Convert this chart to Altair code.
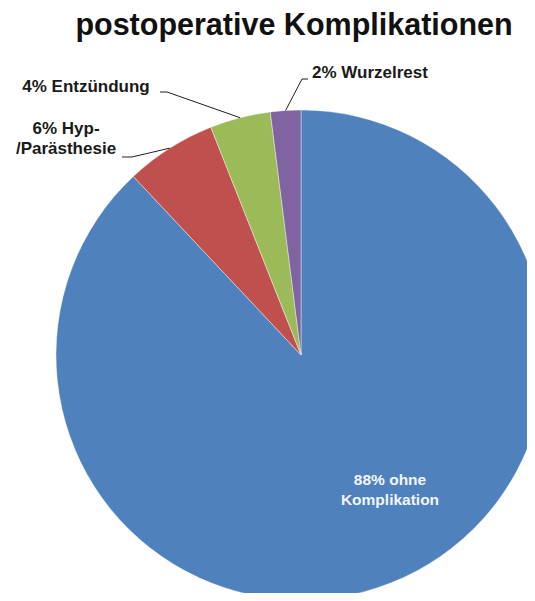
import math
import altair as alt
import pandas as pd

# ---- data -------------------------------------------------------------
categories = ["ohne Komplikation", "Hyp-/Parästhesie", "Entzündung", "Wurzelrest"]
percent = [88, 6, 4, 2]
label_lines = [["88% ohne", "Komplikation"], ["6% Hyp-", "/Parästhesie"],
               ["4% Entzündung"], ["2% Wurzelrest"]]
colors = ["#4F81BD", "#C0504D", "#9BBB59", "#8064A2"]
title_text = "postoperative Komplikationen"

# ---- layout (units of pie radius, relative to pie centre, y up) -------
W, H = 519, 585
R = 245.0
CX, CY = 293.0, 347.0          # pie centre inside the view
XDOM = [-CX / R, (W - CX) / R]
YDOM = [-(H - CY) / R, CY / R]

def u(px, py):
    """page pixel -> radius units"""
    return ((px - 301) / R, (355 - py) / R)

label_anchor = {           # (x, first baseline y), align
    "ohne Komplikation": (u(390, 485), "center"),
    "Hyp-/Parästhesie": (u(66, 134), "center"),
    "Entzündung": (u(86, 92), "center"),
    "Wurzelrest": (u(312, 78), "left"),
}
line_gap = 20 / R
label_stub = {
    "Hyp-/Parästhesie": [u(122, 157), u(132, 157)],
    "Entzündung": [u(160, 92), u(167, 92)],
    "Wurzelrest": [u(308, 79), u(302, 79)],
}
outer_labels = ["Hyp-/Parästhesie", "Entzündung", "Wurzelrest"]

# ---- tables -------------------------------------------------------------
pie_df = pd.DataFrame({"category": categories, "value": percent,
                       "order": list(range(len(categories)))})

cum = 0.0
mid = {}
for c, v in zip(categories, percent):
    mid[c] = 2 * math.pi * (cum + v / 2) / sum(percent)
    cum += v

text_rows = []
for c, lines in zip(categories, label_lines):
    (x0, y0), align = label_anchor[c]
    for i, t in enumerate(lines):
        text_rows.append({"category": c, "text": t, "x": x0, "y": y0 - i * line_gap,
                          "align": align, "inner": c == categories[0]})
text_df = pd.DataFrame(text_rows)

line_rows = []
for c in outer_labels:
    pts = label_stub[c] + [(math.sin(mid[c]), math.cos(mid[c]))]
    for i, (x, y) in enumerate(pts):
        line_rows.append({"category": c, "i": i, "x": x, "y": y})
line_df = pd.DataFrame(line_rows)

tx, ty = u(294, 35)
title_df = pd.DataFrame({"text": [title_text], "x": [tx], "y": [ty]})

xs = alt.Scale(domain=XDOM, nice=False, zero=False)
ys = alt.Scale(domain=YDOM, nice=False, zero=False)
FONT = "Liberation Sans"

pie = alt.Chart(pie_df).mark_arc(radius=R, stroke="#ffffff", strokeWidth=0.8,
                                 strokeOpacity=0.5).encode(
    theta=alt.Theta("value:Q", stack=True),
    order=alt.Order("order:O"),
    color=alt.Color("category:N", scale=alt.Scale(domain=categories, range=colors),
                    legend=None),
    x=alt.X(datum=0, scale=xs, axis=None),
    y=alt.Y(datum=0, scale=ys, axis=None),
)

leaders = alt.Chart(line_df).mark_line(color="#1f1f1f", strokeWidth=1).encode(
    x=alt.X("x:Q", scale=xs, axis=None),
    y=alt.Y("y:Q", scale=ys, axis=None),
    detail="category:N",
    order="i:Q",
)

def text_layer(df, align, size, color):
    return alt.Chart(df).mark_text(
        font=FONT, fontSize=size, fontWeight="bold", color=color,
        baseline="alphabetic", align=align
    ).encode(
        x=alt.X("x:Q", scale=xs, axis=None),
        y=alt.Y("y:Q", scale=ys, axis=None),
        text="text:N",
    )

outer = text_df[~text_df["inner"]]
outer_c = text_layer(outer[outer["align"] == "center"], "center", 17, "#1a1a1a")
outer_l = text_layer(outer[outer["align"] == "left"], "left", 17, "#1a1a1a")
inner_text = text_layer(text_df[text_df["inner"]], "center", 15.5, "#f2f6fa")
title = text_layer(title_df, "center", 30.5, "#111111")

chart = alt.layer(pie, leaders, outer_c, outer_l, inner_text, title).properties(
    width=W, height=H, padding=0, autosize=alt.AutoSizeParams(type="none"),
    background="#ffffff",
).configure_view(stroke=None)

chart.save("out.html", embed_options={"renderer": "svg", "actions": False})
